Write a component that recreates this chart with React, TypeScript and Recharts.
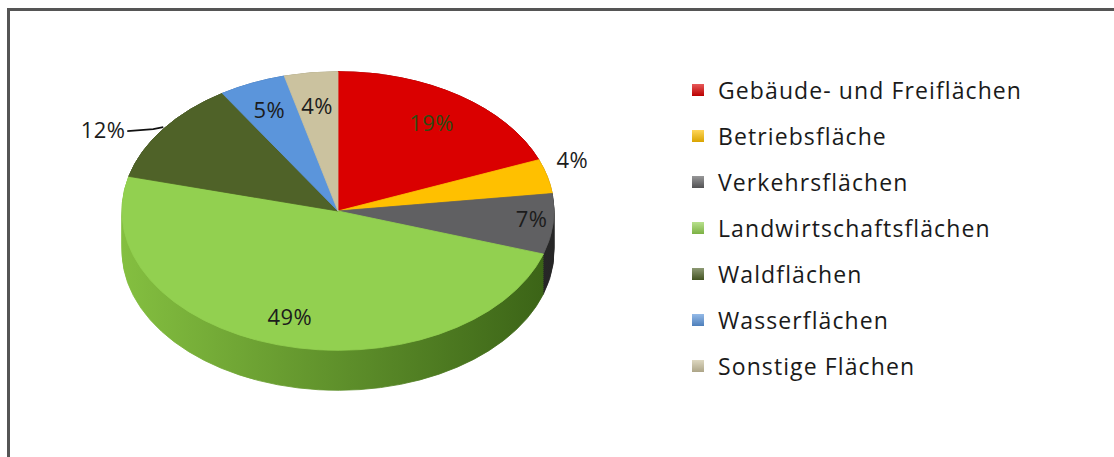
import React from 'react'
import { PieChart, Pie, Cell, Legend } from 'recharts'

const categories = [
  'Gebäude- und Freiflächen',
  'Betriebsfläche',
  'Verkehrsflächen',
  'Landwirtschaftsflächen',
  'Waldflächen',
  'Wasserflächen',
  'Sonstige Flächen',
]
const shares = [19, 4, 7, 49, 12, 5, 4]

const data = categories.map((name, i) => ({ name, value: shares[i] }))

const topColors = ['#DA0000', '#FFC000', '#606062', '#92D050', '#4F6228', '#5B95DB', '#CBC29F']
// side wall gradient, left -> right
const sideStops = [
  ['#a80000', '#6e0000'],
  ['#d9a200', '#9a6e00'],
  ['#4a4a4a', '#262626'],
  ['#84bf40', '#3a6216'],
  ['#3d4d1e', '#2b3614'],
  ['#3f73b0', '#2b5080'],
  ['#a39d7c', '#7a7558'],
]
// label placement: radius factor and small vertical nudge
const labelRadius = [0.77, 1.12, 0.9, 0.8, 1, 0.8, 0.77]
const labelShiftY = [0, -13, -5, -2, 0, 0, 0]
const labelColors = ['#2e4a12', '#1c1c1c', '#1c1c1c', '#1c1c1c', '#1c1c1c', '#1c1c1c', '#1c1c1c']

// pie geometry (tilted view)
const CX = 338
const CY = 211
const R = 216
const K = 0.645
const DEPTH = 40
const RAD = Math.PI / 180
const sideOffsets = Array.from({ length: 21 }, (_, i) => DEPTH - i * 2)

const FONT = '"Open Sans", Lato, sans-serif'

function renderLabel(props: any) {
  const { cx, cy, midAngle, outerRadius, percent, index } = props
  const cos = Math.cos(-midAngle * RAD)
  const sin = Math.sin(-midAngle * RAD)
  const text = `${Math.round(percent * 100)}%`
  if (index === 4) {
    const ex = cx + outerRadius * cos
    const ey = cy + outerRadius * sin * K
    return (
      <g key={`lbl-${index}`}>
        <path d={`M${ex - 36},${ey + 2} L${ex - 10},${ey} L${ex},${ey - 2}`} stroke="#111" strokeWidth={1.6} fill="none" />
        <text x={ex - 38} y={ey} textAnchor="end" dominantBaseline="central" fill={labelColors[index]} fontSize={22} letterSpacing={0.4} fontFamily={FONT}>
          {text}
        </text>
      </g>
    )
  }
  const r = outerRadius * labelRadius[index]
  return (
    <text
      key={`lbl-${index}`}
      x={cx + r * cos}
      y={cy + r * sin * K + labelShiftY[index]}
      textAnchor="middle"
      dominantBaseline="central"
      fill={labelColors[index]}
      fontSize={22}
      letterSpacing={0.4}
      fontFamily={FONT}
    >
      {text}
    </text>
  )
}

function LegendContent(props: any) {
  const seen = new Set<string>()
  const items = (props.payload ?? [])
    .filter((p: any) => {
      if (p.type === 'none' || seen.has(p.value)) return false
      seen.add(p.value)
      return true
    })
    .sort((a: any, b: any) => categories.indexOf(a.value) - categories.indexOf(b.value))
  return (
    <div style={{ fontFamily: FONT, fontSize: 23, letterSpacing: 1.1, color: '#1a1a1a' }}>
      {items.map((p: any) => {
        const c = topColors[categories.indexOf(p.value)]
        return (
          <div key={p.value} style={{ display: 'flex', alignItems: 'center', height: 46 }}>
            <span
              style={{
                width: 12,
                height: 12,
                marginRight: 14,
                background: `linear-gradient(rgba(255,255,255,0.35), rgba(0,0,0,0.15)), ${c}`,
                display: 'inline-block',
                flex: 'none',
              }}
            />
            <span>{p.value}</span>
          </div>
        )
      })}
    </div>
  )
}

export default function App() {
  return (
    <div style={{ position: 'absolute', left: 0, top: 0, width: 1114, height: 457, background: '#fff', overflow: 'hidden' }}>
      <style>{`g.recharts-pie.pie3d { transform: scaleY(${K}); transform-origin: ${CX}px ${CY}px; }`}</style>
      <div
        style={{
          position: 'absolute',
          left: 7,
          top: 8,
          width: 1200,
          height: 600,
          borderLeft: '3px solid #555',
          borderTop: '3px solid #555',
        }}
      />
      <div style={{ position: 'absolute', left: 0, top: 0 }}>
        <PieChart width={1114} height={457} margin={{ top: 0, right: 0, bottom: 0, left: 0 }}>
          <defs>
            {sideStops.map((s, i) => (
              <linearGradient key={i} id={`side${i}`} gradientUnits="userSpaceOnUse" x1={CX - R} y1={0} x2={CX + R} y2={0}>
                <stop offset="0%" stopColor={s[0]} />
                <stop offset="100%" stopColor={s[1]} />
              </linearGradient>
            ))}
          </defs>
          {sideOffsets.map((d) => (
            <Pie
              key={`side-${d}`}
              className="pie3d"
              data={data}
              dataKey="value"
              nameKey="name"
              cx={CX}
              cy={CY + d / K}
              outerRadius={R}
              startAngle={90}
              endAngle={-270}
              legendType="none"
              label={false}
              labelLine={false}
              isAnimationActive={false}
            >
              {data.map((e, i) => (
                <Cell key={e.name} fill={`url(#side${i})`} stroke={`url(#side${i})`} strokeWidth={1} />
              ))}
            </Pie>
          ))}
          <Pie
            className="pie3d"
            data={data}
            dataKey="value"
            nameKey="name"
            cx={CX}
            cy={CY}
            outerRadius={R}
            startAngle={90}
            endAngle={-270}
            label={false}
            labelLine={false}
            isAnimationActive={false}
          >
            {data.map((e, i) => (
              <Cell key={e.name} fill={topColors[i]} stroke={topColors[i]} strokeWidth={1} />
            ))}
          </Pie>
          <Pie
            data={data}
            dataKey="value"
            nameKey="name"
            cx={CX}
            cy={CY}
            outerRadius={R}
            startAngle={90}
            endAngle={-270}
            fill="none"
            stroke="none"
            legendType="none"
            label={renderLabel}
            labelLine={false}
            isAnimationActive={false}
          />
          <Legend
            layout="vertical"
            align="right"
            verticalAlign="top"
            content={LegendContent}
            wrapperStyle={{ left: 692, top: 67, right: 'auto', width: 420 }}
          />
        </PieChart>
      </div>
    </div>
  )
}
